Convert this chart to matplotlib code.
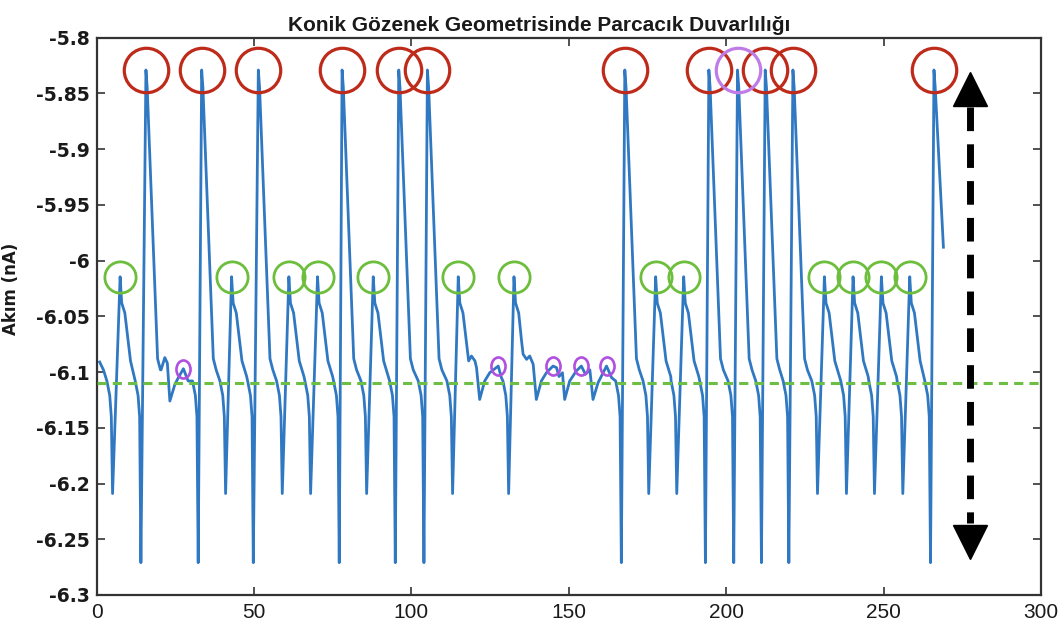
import numpy as np
import matplotlib
matplotlib.use('Agg')
import matplotlib.pyplot as plt
from matplotlib.path import Path
from matplotlib.transforms import Affine2D

# pulse events: x of the negative dip, x of the following peak, pulse size
dip_x = [5.1, 14.1, 32.3, 41.0, 49.8, 59.0, 68.0, 77.1, 85.8, 94.9, 104.0, 113.1, 130.9,
         166.7, 175.4, 184.3, 193.4, 202.4, 211.2, 219.9, 229.0, 238.2, 247.1, 256.1, 264.9]
peak_x = [7.5, 15.7, 33.4, 42.9, 51.4, 61.1, 70.2, 78.0, 87.9, 96.0, 105.1, 114.9, 132.6,
          167.8, 177.6, 186.5, 194.5, 203.6, 212.4, 221.2, 231.2, 240.3, 249.3, 258.3, 266.0]
pulse_kind = ['small', 'big', 'big', 'small', 'big', 'small', 'small', 'big', 'small', 'big',
              'big', 'small', 'small', 'big', 'small', 'small', 'big', 'big', 'big', 'big',
              'small', 'small', 'small', 'small', 'big']

dip_level = {'big': -6.271, 'small': -6.209}
peak_level = {'big': -5.829, 'small': -6.0145}

# trace shape just before a dip and just after a peak (offsets in x)
pre_dx = [-1.8, -0.9, -0.4]
pre_y = [-6.108, -6.121, -6.140]
post_dx = {'big': [0.4, 3.7, 4.6, 6.2], 'small': [0.5, 1.5, 3.3, 4.8]}
post_y = {'big': [-5.845, -6.088, -6.098, -6.106], 'small': [-6.038, -6.047, -6.090, -6.104]}

# baseline stretches without pulses
start_x = [1.0, 2.2]
start_y = [-6.091, -6.098]
quiet_a_x = [20.5, 21.7, 22.5, 23.3, 24.9, 26.0, 27.6, 29.1, 30.7]
quiet_a_y = [-6.098, -6.087, -6.092, -6.126, -6.111, -6.105, -6.097, -6.108, -6.111]
quiet_b_x = [119.1, 120.2, 120.7, 121.7, 123.3, 124.9, 127.6, 128.6, 129.9]
quiet_b_y = [-6.0856, -6.090, -6.096, -6.1246, -6.108, -6.1006, -6.0946, -6.105, -6.1096]
quiet_c_x = [135.0, 135.5, 136.6, 137.6, 138.7, 139.7, 141.3, 142.9, 145.0, 146.1, 146.9, 148.0,
             148.7, 150.3, 152.4, 154.0, 155.3, 156.7, 157.7, 159.3, 160.9, 162.0, 163.6, 165.1]
quiet_c_y = [-6.072, -6.084, -6.0886, -6.0856, -6.093, -6.1246, -6.108, -6.1006, -6.0946, -6.096,
             -6.104, -6.1006, -6.1246, -6.108, -6.099, -6.0946, -6.102, -6.098, -6.1246, -6.1096,
             -6.1006, -6.0946, -6.105, -6.1096]
end_x = [266.4, 269.0]
end_y = [-5.845, -5.988]

baseline = -6.11
small_bump_x = [27.6, 127.6, 145.0, 154.0, 162.0]
flagged_peak_x = 203.6

arrow_x = 277.3
arrow_top = (-5.8306, -5.862)      # tip, base of the upper head
arrow_bottom = (-6.2686, -6.2357)  # tip, base of the lower head

xticks = [0, 50, 100, 150, 200, 250, 300]
yticks = [-5.8, -5.85, -5.9, -5.95, -6.0, -6.05, -6.1, -6.15, -6.2, -6.25, -6.3]
ytick_labels = ['-5.8', '-5.85', '-5.9', '-5.95', '-6', '-6.05', '-6.1', '-6.15', '-6.2', '-6.25', '-6.3']

# build the trace piece by piece
segments = [list(zip(start_x, start_y))]
for d, p, k in zip(dip_x, peak_x, pulse_kind):
    seg = [(d + dx, y) for dx, y in zip(pre_dx, pre_y)]
    seg.append((d, dip_level[k]))
    seg.append((p, peak_level[k]))
    seg += [(p + dx, y) for dx, y in zip(post_dx[k], post_y[k])]
    segments.append(seg)
for qx, qy in [(quiet_a_x, quiet_a_y), (quiet_b_x, quiet_b_y), (quiet_c_x, quiet_c_y)]:
    segments.append(list(zip(qx, qy)))
segments.append(list(zip(end_x, end_y)))
segments.sort(key=lambda s: s[0][0])

trace = []
for seg in segments:
    trace = [pt for pt in trace if pt[0] < seg[0][0]]
    trace += seg
tx, ty = np.array(trace).T

big_x = [p for p, k in zip(peak_x, pulse_kind) if k == 'big']
red_x = [x for x in big_x if x != flagged_peak_x]
green_x = [p for p, k in zip(peak_x, pulse_kind) if k == 'small']
bump_y = np.interp(small_bump_x, tx, ty)

narrow = ['Liberation Sans Narrow', 'Liberation Sans', 'DejaVu Sans']
oval = Affine2D().scale(0.78, 1.0).transform_path(Path.unit_circle())

fig = plt.figure(figsize=(10.64, 6.35), dpi=100)
ax = fig.add_axes([0.0907, 0.063, 0.8877, 0.8777])

ax.plot(tx, ty, color='#3079C2', lw=2.0, solid_joinstyle='round', zorder=2)
ax.axhline(baseline, color='#6DBE45', lw=2.2, dashes=(3, 2), zorder=3)

ax.plot(red_x, [peak_level['big']] * len(red_x), 'o', ms=32, mfc='none',
        mec='#BE2B1B', mew=2.3, zorder=4)
ax.plot([flagged_peak_x], [peak_level['big']], 'o', ms=32, mfc='none',
        mec='#BF7BE6', mew=2.3, zorder=4)
ax.plot(green_x, [peak_level['small']] * len(green_x), 'o', ms=22.5, mfc='none',
        mec='#6CBE3C', mew=2.0, zorder=4)
ax.plot(small_bump_x, bump_y, ls='none', marker=oval, ms=13, mfc='none',
        mec='#B04FE0', mew=1.9, zorder=4)

# double-headed range arrow
ax.plot([arrow_x, arrow_x], [arrow_top[1], arrow_bottom[1]], color='black', lw=5,
        dashes=(3.4, 1.9), dash_capstyle='butt', zorder=5)
ax.plot(arrow_x, sum(arrow_top) / 2, marker='^', ms=24, color='black', zorder=5)
ax.plot(arrow_x, sum(arrow_bottom) / 2, marker='v', ms=24, color='black', zorder=5)

ax.set_xlim(0, 300)
ax.set_ylim(-6.3, -5.8)
ax.set_xticks(xticks)
ax.set_xticklabels([str(t) for t in xticks], fontsize=15, family=narrow)
ax.set_yticks(yticks)
ax.set_yticklabels(ytick_labels, fontsize=13.5, fontweight='bold', family='DejaVu Sans')
ax.tick_params(direction='in', length=6, width=1.2, top=True, right=True,
               color='#333333', labelcolor='#1a1a1a')
ax.tick_params(axis='x', pad=6)
ax.tick_params(axis='y', pad=5)
for sp in ax.spines.values():
    sp.set_linewidth(1.6)
    sp.set_color('#333333')

ax.set_ylabel('Akım (nA)', fontsize=12, fontweight='bold', family='DejaVu Sans', color='#1a1a1a')
ax.yaxis.set_label_coords(-0.081, 0.55)
ax.set_title('Konik Gözenek Geometrisinde Parcacık Duvarlılığı', fontsize=15,
             fontweight='bold', family=narrow, x=0.469, pad=5, color='#1a1a1a')

fig.savefig('out.png', dpi=100)
